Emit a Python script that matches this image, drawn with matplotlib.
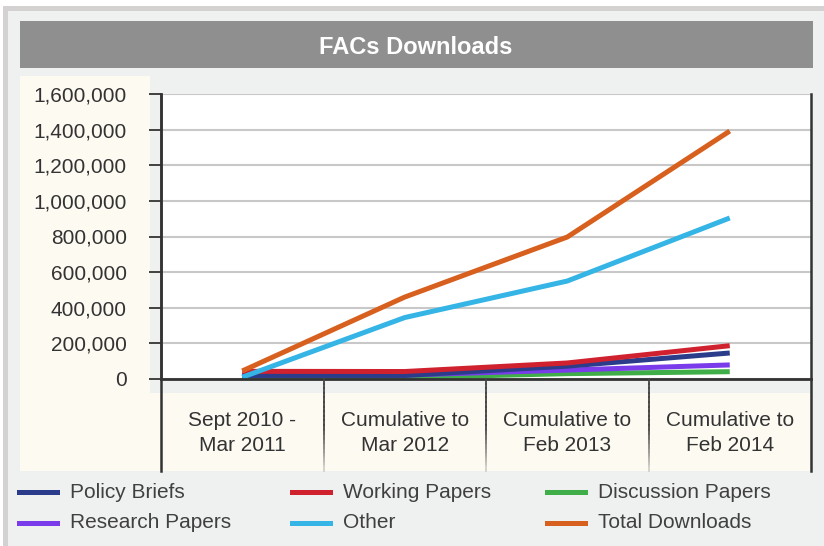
import matplotlib.pyplot as plt
from matplotlib.colors import to_rgb
from matplotlib.lines import Line2D
from matplotlib.patches import Rectangle
from matplotlib.ticker import FuncFormatter

plt.rcParams['font.family'] = ['Liberation Sans', 'DejaVu Sans']

W, H = 824, 546

# data
categories = ["Sept 2010 -\nMar 2011", "Cumulative to\nMar 2012",
              "Cumulative to\nFeb 2013", "Cumulative to\nFeb 2014"]
policy_briefs = [20000, 20000, 72000, 146000]
working_papers = [43000, 42000, 90000, 187000]
discussion_papers = [8000, 8000, 30000, 41000]
research_papers = [20000, 22000, 50000, 79000]
other = [10000, 345000, 550000, 904000]
total_downloads = [45000, 460000, 797000, 1392000]
yticks = [0, 200000, 400000, 600000, 800000, 1000000, 1200000, 1400000, 1600000]

series = [
    ("Discussion Papers", discussion_papers, "#3fae49"),
    ("Research Papers", research_papers, "#7a3bea"),
    ("Policy Briefs", policy_briefs, "#2b3d8a"),
    ("Working Papers", working_papers, "#d0212f"),
    ("Other", other, "#35b4e6"),
    ("Total Downloads", total_downloads, "#d8601e"),
]
colors = {name: c for name, _, c in series}


def fx(x):
    return x / W


def fy(y):
    return 1 - y / H


def box(fig, x0, y0, x1, y1, color, z=0):
    fig.add_artist(Rectangle((fx(x0), fy(y1)), fx(x1) - fx(x0), fy(y0) - fy(y1),
                             transform=fig.transFigure, facecolor=color,
                             edgecolor='none', zorder=z))


def vline(fig, x, y0, y1, color='#333333', lw=1.5):
    fig.add_artist(Line2D([fx(x), fx(x)], [fy(y0), fy(y1)], transform=fig.transFigure,
                          color=color, lw=lw, zorder=3, solid_capstyle='projecting'))


fig = plt.figure(figsize=(W / 100, H / 100), dpi=100)
fig.patch.set_facecolor('white')

# frame + panels
box(fig, 3, 6, W, H, '#d4d2d0')
box(fig, 8, 11, W, H, '#eff1f0')
box(fig, 20, 21, 813, 68, '#8f8f8f')
box(fig, 20, 76, 150, 471, '#fdfaf2')
box(fig, 20, 393, 812, 471, '#fdfaf2')
fig.text(fx(416), fy(47), "FACs Downloads", color='white', fontsize=17,
         fontweight='bold', ha='center', va='center')

# plot area
ax = fig.add_axes([fx(161), fy(379), fx(811) - fx(161), fy(94) - fy(379)])
ax.set_facecolor('white')
ax.set_xlim(0, 4)
ax.set_ylim(0, 1600000)
ax.set_yticks(yticks)
ax.yaxis.set_major_formatter(FuncFormatter(lambda v, p: f"{int(v):,}"))
ax.tick_params(axis='y', length=8.6, width=1.3, color='#333333', labelsize=15,
               labelcolor='#333333', pad=16)
ax.set_xticks([])
ax.grid(axis='y', color='#c8c8c8', lw=1.5)
ax.set_axisbelow(True)
for s in ['top', 'right']:
    ax.spines[s].set_visible(False)
ax.spines['left'].set_color('#333333')
ax.spines['left'].set_linewidth(1.8)
ax.spines['bottom'].set_color('#333333')
ax.spines['bottom'].set_linewidth(2)

xs = [i + 0.5 for i in range(len(categories))]
for name, vals, c in series:
    ax.plot(xs, vals, color=c, lw=3.6, solid_capstyle='butt', clip_on=False)

# category area
vline(fig, 161, 94, 471, lw=1.8)
vline(fig, 811, 94, 471, lw=1.8)
dark, light = to_rgb('#444444'), to_rgb('#fdfaf2')
for i in range(1, len(categories)):
    xpix = 161 + i * 650 / len(categories)
    nseg = 20
    for k in range(nseg):
        t = max(0.0, (k - 10) / (nseg - 10)) * 0.85
        col = tuple(d + (l - d) * t for d, l in zip(dark, light))
        vline(fig, xpix, 379 + k * 4.6, 379 + (k + 1) * 4.6, color=col, lw=1.3)
for i, lab in enumerate(categories):
    xpix = 161 + (i + 0.5) * 650 / len(categories)
    fig.text(fx(xpix), fy(433), lab, fontsize=15, color='#333333',
             ha='center', va='center', linespacing=1.45)

# legend
legend_order = [["Policy Briefs", "Working Papers", "Discussion Papers"],
                ["Research Papers", "Other", "Total Downloads"]]
col_x = [19, 292, 547]
row_y = [492, 523]
for r, row in enumerate(legend_order):
    for c, name in enumerate(row):
        fig.add_artist(Line2D([fx(col_x[c]), fx(col_x[c] + 38)], [fy(row_y[r])] * 2,
                              transform=fig.transFigure, color=colors[name], lw=3.6))
        fig.text(fx(col_x[c] + 51), fy(row_y[r]), name, fontsize=15,
                 color='#404040', ha='left', va='center')

fig.savefig('out.png', dpi=100)
